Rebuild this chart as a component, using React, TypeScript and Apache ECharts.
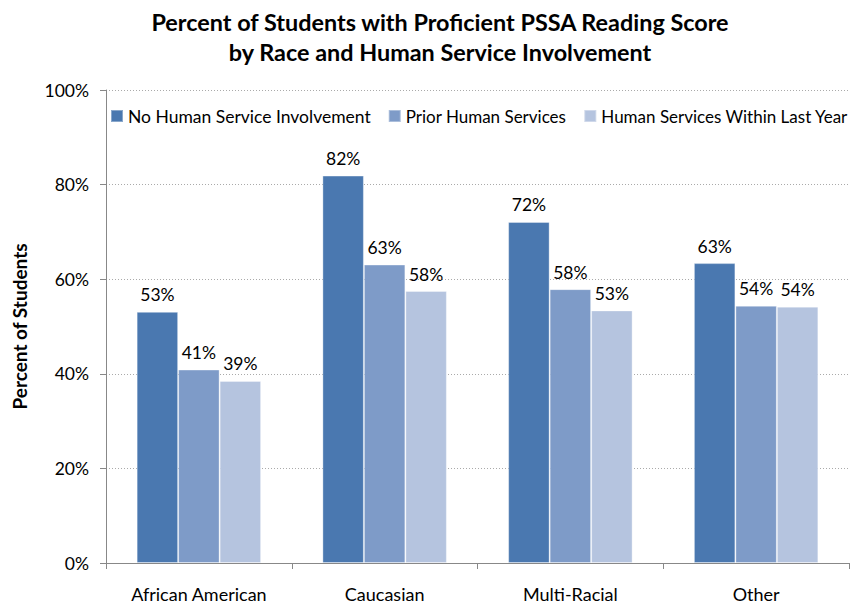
import React, { useEffect, useRef } from "react";
import * as echarts from "echarts";

const categories = ["African American", "Caucasian", "Multi-Racial", "Other"];
const seriesNames = ["No Human Service Involvement", "Prior Human Services", "Human Services Within Last Year"];
const noInvolvement = [53.1, 81.9, 72.1, 63.4];
const priorServices = [40.9, 63.1, 57.9, 54.4];
const withinLastYear = [38.5, 57.5, 53.4, 54.2];
const colors = ["#4a78b0", "#7e9bc8", "#b5c4df"];
const legendFontSizes = [17.5, 17, 17];
const FONT = "Lato";

export default function App() {
  const ref = useRef<HTMLDivElement>(null);
  useEffect(() => {
    const chart = echarts.init(ref.current!, undefined, { renderer: "svg" });
    const data = [noInvolvement, priorServices, withinLastYear];
    chart.setOption({
      animation: false,
      textStyle: { fontFamily: FONT },
      title: {
        text: "Percent of Students with Proficient PSSA Reading Score\nby Race and Human Service Involvement",
        left: 435,
        textAlign: "center",
        top: 2,
        textStyle: { fontFamily: FONT, fontSize: 23.4, fontWeight: "bold", color: "#000", lineHeight: 30 },
      },
      legend: {
        left: 105,
        top: 102,
        width: 780,
        itemWidth: 12,
        itemHeight: 12,
        itemGap: 17,
        icon: "rect",
        textStyle: { fontFamily: FONT, fontSize: 17, color: "#000" },
        data: seriesNames.map((name, i) => ({ name, textStyle: { fontSize: legendFontSizes[i] } })),
      },
      grid: { left: 106, top: 90, right: 5, bottom: 42, containLabel: false },
      xAxis: {
        type: "category",
        data: categories,
        axisLine: { lineStyle: { color: "#888" } },
        axisTick: { show: true, length: 6, lineStyle: { color: "#888" } },
        axisLabel: { fontFamily: FONT, fontSize: 18, color: "#000", margin: 22 },
      },
      yAxis: {
        type: "value",
        min: 0,
        max: 100,
        interval: 20,
        name: "Percent of Students",
        nameLocation: "middle",
        nameGap: 77,
        nameTextStyle: { fontFamily: FONT, fontSize: 19, fontWeight: "bold", color: "#000" },
        axisLine: { show: true, lineStyle: { color: "#888" } },
        axisTick: { show: true, length: 6, lineStyle: { color: "#888" } },
        axisLabel: { fontFamily: FONT, fontSize: 17.5, color: "#000", margin: 17, formatter: "{value}%" },
        splitLine: { lineStyle: { color: "#aaa", type: [1, 2] } },
      },
      series: seriesNames.map((name, i) => ({
        name,
        type: "bar",
        data: data[i],
        barGap: "0%",
        barCategoryGap: "33%",
        itemStyle: { color: colors[i], borderColor: "rgba(255,255,255,0.35)", borderWidth: 1 },
        label: {
          show: true,
          position: "top",
          distance: 8,
          fontFamily: FONT,
          fontSize: 17.5,
          color: "#000",
          formatter: (p: any) => Math.round(p.value) + "%",
        },
      })),
    });
    return () => chart.dispose();
  }, []);
  return <div ref={ref} style={{ width: 854, height: 605, position: "absolute", left: 0, top: 0, background: "#fff" }} />;
}
